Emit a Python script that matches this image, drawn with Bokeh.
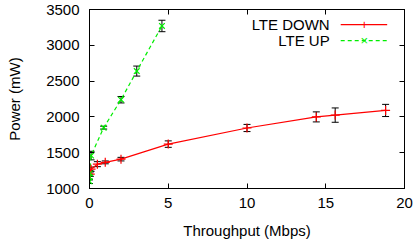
from bokeh.plotting import figure
from bokeh.models import (ColumnDataSource, Whisker, TeeHead, LinearAxis, Range1d,
                          FixedTicker, Label, Arrow, CustomJSTickFormatter)
from bokeh.embed import file_html
from bokeh.resources import INLINE

# ---- data ----
down_x = [0.05, 0.1, 0.5, 1.0, 2.0, 5.0, 10.0, 14.4, 15.6, 18.8]
down_y = [1200, 1270, 1340, 1365, 1410, 1620, 1845, 2000, 2025, 2090]
down_err = [30, 30, 35, 20, 25, 45, 50, 70, 100, 85]

up_x = [0.0, 0.0, 0.02, 0.1, 0.9, 2.0, 3.0, 4.6]
up_y = [1100, 1160, 1210, 1460, 1850, 2240, 2640, 3270]
up_err = [30, 40, 40, 60, 20, 45, 70, 80]

x_ticks = [0, 5, 10, 15, 20]
y_ticks = [1000, 1500, 2000, 2500, 3000, 3500]

FONT = "Liberation Sans"
FS = "15px"

p = figure(width=414, height=244, output_backend="svg", toolbar_location=None,
           x_range=Range1d(0, 20), y_range=Range1d(1000, 3500),
           min_border_left=89, min_border_right=10, min_border_top=9, min_border_bottom=56)
p.grid.visible = False
p.outline_line_color = "black"
p.outline_line_width = 1
p.background_fill_color = "white"
p.border_fill_color = "white"

for ax in [p.xaxis[0], p.yaxis[0]]:
    ax.major_tick_in = 5
    ax.major_tick_out = 0
    ax.minor_tick_in = 0
    ax.minor_tick_out = 0
    ax.axis_line_color = "black"
    ax.major_tick_line_color = "black"
    ax.major_label_text_font = FONT
    ax.major_label_text_font_size = FS
    ax.major_label_text_color = "black"
    ax.axis_label_text_font = FONT
    ax.axis_label_text_font_size = FS
    ax.axis_label_text_font_style = "normal"
    ax.axis_label_text_color = "black"

p.xaxis[0].ticker = FixedTicker(ticks=x_ticks)
p.yaxis[0].ticker = FixedTicker(ticks=y_ticks)
p.xaxis[0].axis_label = "Throughput (Mbps)"
p.yaxis[0].axis_label = "Power (mW)"
p.xaxis[0].major_label_standoff = 9
p.xaxis[0].axis_label_standoff = 11
p.yaxis[0].major_label_standoff = 10
p.yaxis[0].axis_label_standoff = 20

# mirrored ticks on top and right (no labels)
blank = CustomJSTickFormatter(code="return ''")
top = LinearAxis(ticker=FixedTicker(ticks=x_ticks), formatter=blank,
                 major_tick_in=5, major_tick_out=0, minor_tick_in=0, minor_tick_out=0,
                 axis_line_color="black", major_tick_line_color="black",
                 major_label_standoff=0)
right = LinearAxis(ticker=FixedTicker(ticks=y_ticks), formatter=blank,
                   major_tick_in=5, major_tick_out=0, minor_tick_in=0, minor_tick_out=0,
                   axis_line_color="black", major_tick_line_color="black",
                   major_label_standoff=0)
p.add_layout(top, "above")
p.add_layout(right, "right")

# sources
dsrc = ColumnDataSource(dict(x=down_x, y=down_y,
                             lo=[y - e for y, e in zip(down_y, down_err)],
                             hi=[y + e for y, e in zip(down_y, down_err)]))
usrc = ColumnDataSource(dict(x=up_x, y=up_y,
                             lo=[y - e for y, e in zip(up_y, up_err)],
                             hi=[y + e for y, e in zip(up_y, up_err)]))

# lines
p.line("x", "y", source=dsrc, line_color="#ff0000", line_width=1.2)
p.line("x", "y", source=usrc, line_color="#00ee00", line_width=1.2, line_dash="4 3")

# error bars
for src in (dsrc, usrc):
    w = Whisker(source=src, base="x", upper="hi", lower="lo", dimension="height",
                line_color="black", line_width=1,
                upper_head=TeeHead(size=7, line_color="black", line_width=1),
                lower_head=TeeHead(size=7, line_color="black", line_width=1))
    p.add_layout(w)

# markers
p.scatter("x", "y", source=dsrc, marker="cross", size=9, line_color="#ff0000", line_width=1.2)
p.scatter("x", "y", source=usrc, marker="x", size=8, line_color="#00ee00", line_width=1.2)

# legend (gnuplot style: label then sample)
leg_rows = [("LTE DOWN", 3290, "#ff0000", None, "+"),
            ("LTE UP", 3065, "#00ee00", "4 3", "×")]
for text, yy, col, dash, mk in leg_rows:
    p.add_layout(Label(x=15.25, y=yy, text=text, text_align="right", text_baseline="middle",
                       text_font=FONT, text_font_size=FS, text_color="black"))
    arr = Arrow(x_start=15.95, y_start=yy, x_end=18.9, y_end=yy, end=None,
                line_color=col, line_width=1.2)
    if dash:
        arr.line_dash = dash
    p.add_layout(arr)
    p.add_layout(Label(x=17.45, y=yy, text=mk, text_align="center", text_baseline="middle",
                       text_font=FONT, text_font_size="13px", text_color=col))

open("out.html", "w").write(file_html(p, INLINE))
